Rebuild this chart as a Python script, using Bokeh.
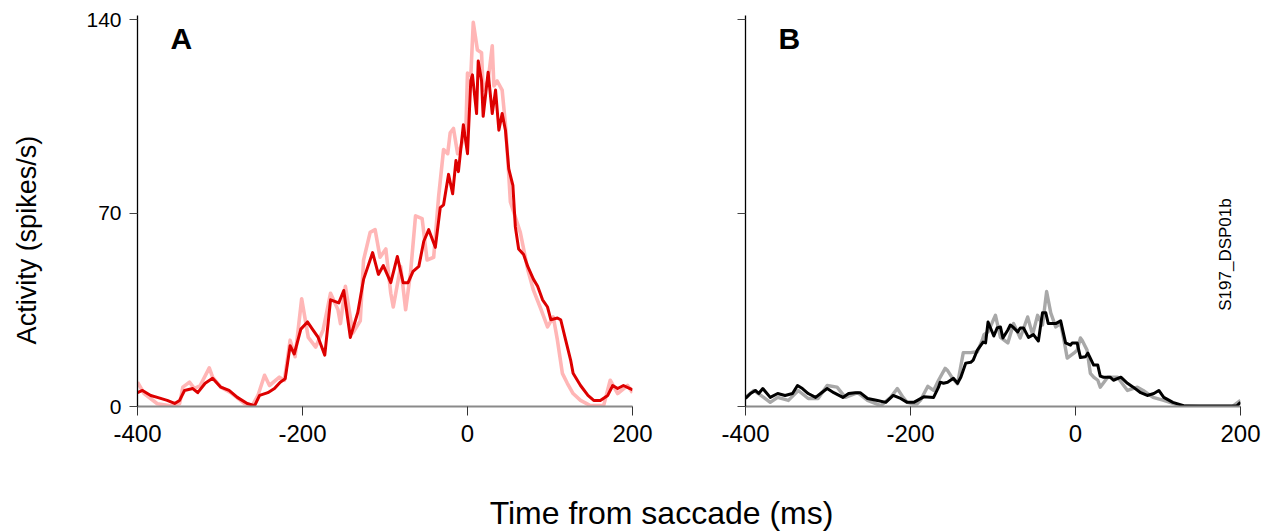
import math
from bokeh.plotting import figure
from bokeh.layouts import row, column
from bokeh.models import Label, Range1d, FixedTicker, CustomJSTickFormatter
from bokeh.embed import file_html
from bokeh.resources import INLINE

# ---------------- data (time in ms, activity in spikes/s) ----------------
a_pink = [(-400,8.8),(-392,4.7),(-376,1),(-360,0.3),(-349,1),(-345,7),(-337,8.8),(-331,6.5),(-324,7.6),
          (-313,14),(-309,10.6),(-299,7),(-287,5),(-270,1),(-261,0.3),(-254,4),(-246,11.3),(-240,7.6),
          (-228,10.6),(-222,9.5),(-215,24),(-209,18),(-201,39),(-193,25),(-184,21.5),(-175,27.7),(-166,41),
          (-157,35),(-154,30),(-148,43.5),(-139,26.6),(-130,31),(-126,53),(-118,63),(-112,64),(-106,54),
          (-99,57),(-93,41),(-90,36),(-81,50.7),(-75,35),(-69,48.5),(-63,69),(-55,68),(-49,53),(-41,54),
          (-35,76),(-29,93),(-24,91.5),(-21,99),(-17,100.6),(-12,91.5),(-8,94),(-2,100),(0,120.7),(4,119.6),
          (7,139),(12,129),(17,128),(19,114.5),(25,118),(30,130.5),(32,116),(36,117.8),(42,114.5),(46,102),
          (50,84),(52,74),(64,63),(73,49.6),(80,42),(88,36),(97,28.8),(104,32.4),(109,24),(115,12),(121,8.4),
          (128,4.7),(137,2.2),(149,0.3),(165,0.3),(173,9.5),(182,4.7),(194,7.6),(200,5)]

a_red = [(-400,5),(-394,5.8),(-384,4),(-376,3.3),(-364,2.2),(-355,1.1),(-349,2.2),(-343,5.8),(-333,6.5),
         (-327,5),(-318,8.4),(-309,10.2),(-299,7),(-289,5.8),(-279,3.3),(-267,1.1),(-258,0.3),(-252,4),
         (-242,5),(-234,6.5),(-227,8.8),(-221,10),(-215,22),(-210,19),(-202,28),(-194,30.6),(-188,28),
         (-181,25),(-173,18.6),(-166,38.6),(-156,37.5),(-150,42),(-142,25),(-133,34),(-126,46),(-115,55.7),
         (-108,47.8),(-102,51),(-93,44.8),(-85,54.3),(-78,44.8),(-72,44.8),(-66,48.9),(-59,50.7),(-53,59.8),
         (-47,64),(-39,57.6),(-33,72),(-29,73),(-23,84),(-18,77),(-14,89),(-11,85),(-5,102),(0,91.5),(4,118),
         (6,120),(11,106),(13,125),(17,118),(19,105),(25,121),(30,106),(34,114.5),(38,100),(42,106),(46,100),
         (50,86),(55,80),(58,65),(62,57),(68,55),(73,50.7),(80,46),(85,43.5),(91,38.6),(97,36),(101,31.4),
         (109,32),(113,31.4),(119,24),(125,16.8),(128,12),(137,7.6),(146,4),(153,2.2),(161,2.2),(170,4),
         (176,7.6),(182,6.5),(189,7.6),(197,6.5),(200,6)]

b_grey = [(-400,3.3),(-390,5.8),(-378,3.3),(-370,1.5),(-361,3.3),(-348,2.2),(-336,5.8),(-324,2.9),(-312,2.9),
          (-301,7.6),(-289,7),(-279,3.3),(-264,5),(-252,2.2),(-236,0.3),(-224,3.3),(-216,6.5),(-209,3.3),
          (-204,1.5),(-198,1),(-192,1),(-188,2.2),(-179,7.3),(-172,5.8),(-166,9.5),(-158,13.8),(-155,13),
          (-149,10.2),(-143,8.2),(-136,19.5),(-127,19.5),(-119,19.8),(-113,24),(-111,26),(-106,27),(-97,33),
          (-91,25),(-82,23),(-75,30),(-67,24.8),(-58,32.4),(-52,26),(-46,33),(-40,29.5),(-35,41.6),(-30,33.9),
          (-24,28.8),(-18,30),(-14,24),(-10,17.5),(-2,19.3),(2,20.4),(6,24.8),(8,24),(14,20.4),(18,12),
          (22,10.6),(27,9.5),(30,7),(39,10.6),(51,10.6),(63,5.8),(75,7),(82,5.8),(94,3.3),(107,2.2),(119,1),
          (127,0.3),(150,0),(190,0),(200,2.2)]

b_black = [(-400,2.9),(-394,4.7),(-388,5.8),(-384,4.7),(-379,6.5),(-370,3.3),(-361,4.7),(-352,4),(-343,4.7),
           (-337,7.6),(-331,6.5),(-324,4.7),(-315,3.3),(-309,4.7),(-301,6.5),(-293,5),(-282,3.3),(-275,4.7),
           (-267,5),(-261,5),(-252,2.9),(-240,2.2),(-230,1.5),(-221,4),(-212,2.9),(-204,1.5),(-196,1.5),
           (-184,3.5),(-172,3.3),(-166,7),(-164,8.8),(-160,8.4),(-155,8.8),(-148,10.2),(-143,8.4),(-139,10.6),
           (-133,15.7),(-127,16),(-124,16.8),(-119,20.4),(-112,23.3),(-109,23),(-106,30.6),(-99,25.5),
           (-95,28.4),(-91,28.8),(-88,24.8),(-82,27.7),(-79,29.5),(-76,28.8),(-70,27),(-67,28.4),(-63,28.4),
           (-57,25),(-51,26),(-45,23.7),(-40,33.9),(-36,33.9),(-33,30),(-28,30),(-24,30),(-18,31),(-12,23),
           (-6,22.2),(-4,23),(2,23),(6,17.7),(12,18),(15,19.3),(22,15),(27,15),(30,11),(34,10.6),(42,10.6),
           (46,9.5),(55,10.6),(63,8.4),(70,7),(79,5),(87,4),(95,4.7),(101,5.8),(107,3.3),(118,1.5),(131,0.3),
           (150,0.2),(180,0.2),(196,0.3),(200,1.5)]

x_ticks = [-400, -200, 0, 200]
y_ticks = [0, 70, 140]
panel_letters = ["A", "B"]
x_title = "Time from saccade (ms)"
y_title = "Activity (spikes/s)"
cell_id = "S197_DSP01b"

FONT = "Liberation Sans"

def make_panel(width, left, right, show_ylabels):
    p = figure(width=width, height=470, x_range=Range1d(-400, 200), y_range=Range1d(0, 141.5),
               toolbar_location=None, output_backend="svg",
               min_border_left=left, min_border_right=right, min_border_top=15, min_border_bottom=64)
    p.outline_line_color = None
    p.grid.grid_line_color = None
    p.background_fill_color = "white"
    xa = p.xaxis[0]
    xa.ticker = FixedTicker(ticks=x_ticks)
    xa.formatter = CustomJSTickFormatter(code="return tick.toString()")
    xa.axis_line_color = "#8a8a8a"
    xa.axis_line_width = 2
    xa.major_tick_line_color = "#333333"
    xa.major_tick_in = 0
    xa.major_tick_out = 9
    xa.minor_tick_line_color = None
    xa.major_label_text_font = FONT
    xa.major_label_text_font_size = "24px"
    xa.major_label_text_color = "black"
    xa.major_label_standoff = 9
    ya = p.yaxis[0]
    ya.ticker = FixedTicker(ticks=y_ticks)
    ya.axis_line_color = "black"
    ya.axis_line_width = 1.3
    ya.major_tick_line_color = "#444444"
    ya.major_tick_in = 0
    ya.major_tick_out = 8
    ya.minor_tick_line_color = None
    ya.major_label_text_font = FONT
    ya.major_label_text_font_size = "21px"
    ya.major_label_text_color = "black"
    ya.major_label_standoff = 8
    if show_ylabels:
        ya.formatter = CustomJSTickFormatter(code="return tick.toString()")
    else:
        ya.formatter = CustomJSTickFormatter(code="return ''")
    return p

# narrow strip holding the y-axis title
pY = figure(width=50, height=470, x_range=Range1d(0, 50), y_range=Range1d(0, 470),
            toolbar_location=None, output_backend="svg", min_border=0)
pY.axis.visible = False
pY.grid.grid_line_color = None
pY.outline_line_color = None
pY.add_layout(Label(x=26, y=200, text=y_title, angle=math.pi / 2, text_font=FONT,
                    text_font_size="27px", text_color="black", text_align="center",
                    text_baseline="middle"))

pA = make_panel(640, 87, 58, True)
pB = make_panel(576, 55, 26, False)

def unzip(pairs):
    return [t for t, _ in pairs], [v for _, v in pairs]

t, v = unzip(a_pink)
pA.line(t, v, line_color="#ffb6b6", line_width=3.6, line_join="round")
t, v = unzip(a_red)
pA.line(t, v, line_color="#dd0000", line_width=3.0, line_join="round")
t, v = unzip(b_grey)
pB.line(t, v, line_color="#a8a8a8", line_width=3.4, line_join="round")
t, v = unzip(b_black)
pB.line(t, v, line_color="black", line_width=3.0, line_join="round")

for p, letter in zip([pA, pB], panel_letters):
    p.add_layout(Label(x=-360, y=133, text=letter, text_font=FONT, text_font_style="bold",
                       text_font_size="30px", text_color="black", text_baseline="alphabetic"))

pB.add_layout(Label(x=182, y=55, text=cell_id, angle=math.pi / 2, text_font=FONT,
                    text_font_size="17px", text_color="black", text_align="center",
                    text_baseline="middle"))

pT = figure(width=1266, height=61, x_range=Range1d(0, 1266), y_range=Range1d(0, 61),
            toolbar_location=None, output_backend="svg", min_border=0)
pT.axis.visible = False
pT.grid.grid_line_color = None
pT.outline_line_color = None
pT.add_layout(Label(x=661, y=19, text=x_title, text_font=FONT, text_font_size="32px",
                    text_color="black", text_align="center", text_baseline="middle"))

layout = column(row(pY, pA, pB), pT)
open("out.html", "w").write(file_html(layout, INLINE))
